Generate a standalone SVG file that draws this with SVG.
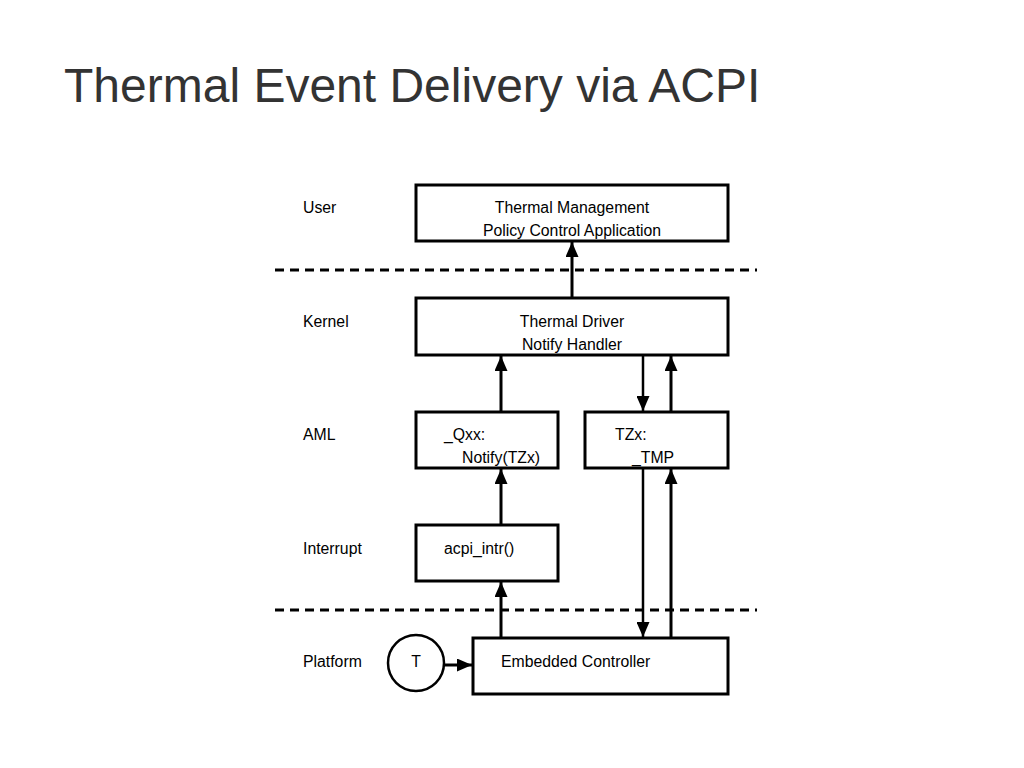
<svg xmlns="http://www.w3.org/2000/svg" width="1024" height="768" viewBox="0 0 1024 768">
<style>
.box{fill:#fff;stroke:#000;stroke-width:3}
.t{font-family:"Liberation Sans",Arial,sans-serif;font-size:15.8px;fill:#000}
.c{text-anchor:middle}
.w{stroke:#000;stroke-width:3;fill:none}
.n{stroke:#000;stroke-width:2.5;fill:none}
.d{stroke:#000;stroke-width:3;stroke-dasharray:9,6;fill:none}
</style>
<defs>
<marker id="ah" viewBox="0 0 15 13" refX="15" refY="6.5" markerWidth="15" markerHeight="13" markerUnits="userSpaceOnUse" orient="auto">
<path d="M0,0 L15,6.5 L0,13 Z" fill="#000"/>
</marker>
</defs>
<rect width="1024" height="768" fill="#fff"/>
<text x="64" y="102" font-family="'Liberation Sans',Arial,sans-serif" font-size="48" fill="#333">Thermal Event Delivery via ACPI</text>
<g id="layers">
<line class="d" x1="275" y1="270" x2="757" y2="270"/>
<line class="d" x1="275" y1="610" x2="757" y2="610"/>
<text class="t" x="303" y="213">User</text>
<text class="t" x="303" y="327">Kernel</text>
<text class="t" x="303" y="440">AML</text>
<text class="t" x="303" y="554">Interrupt</text>
<text class="t" x="303" y="667">Platform</text>
</g>
<g id="connectors">
<line class="w" x1="572" y1="298" x2="572" y2="242" marker-end="url(#ah)"/>
<line class="w" x1="501" y1="412" x2="501" y2="356" marker-end="url(#ah)"/>
<line class="n" x1="643" y1="355" x2="643" y2="411" marker-end="url(#ah)"/>
<line class="w" x1="671" y1="412" x2="671" y2="356" marker-end="url(#ah)"/>
<line class="w" x1="501" y1="525" x2="501" y2="469" marker-end="url(#ah)"/>
<line class="w" x1="501" y1="638" x2="501" y2="582" marker-end="url(#ah)"/>
<line class="n" x1="643" y1="468" x2="643" y2="637" marker-end="url(#ah)"/>
<line class="w" x1="671" y1="638" x2="671" y2="469" marker-end="url(#ah)"/>
<line class="w" x1="444" y1="665" x2="472" y2="665" marker-end="url(#ah)"/>
</g>
<g id="user-app">
<rect class="box" x="416" y="185" width="312" height="56"/>
<text class="t c" x="572" y="213">Thermal Management</text>
<text class="t c" x="572" y="236">Policy Control Application</text>
</g>
<g id="thermal-driver">
<rect class="box" x="416" y="298" width="312" height="57"/>
<text class="t c" x="572" y="327">Thermal Driver</text>
<text class="t c" x="572" y="350">Notify Handler</text>
</g>
<g id="qxx">
<rect class="box" x="416" y="412" width="142" height="56"/>
<text class="t" x="444" y="440">_Qxx:</text>
<text class="t" x="462" y="463">Notify(TZx)</text>
</g>
<g id="tzx">
<rect class="box" x="585" y="412" width="143" height="56"/>
<text class="t" x="615" y="440">TZx:</text>
<text class="t" x="632" y="463">_TMP</text>
</g>
<g id="acpi-intr">
<rect class="box" x="416" y="525" width="142" height="56"/>
<text class="t" x="444" y="554">acpi_intr()</text>
</g>
<g id="ec">
<rect class="box" x="473" y="638" width="255" height="56"/>
<text class="t" x="501" y="667">Embedded Controller</text>
</g>
<g id="sensor">
<circle cx="416" cy="663" r="28" fill="#fff" stroke="#000" stroke-width="2.5"/>
<text class="t c" x="416" y="667">T</text>
</g>
</svg>
